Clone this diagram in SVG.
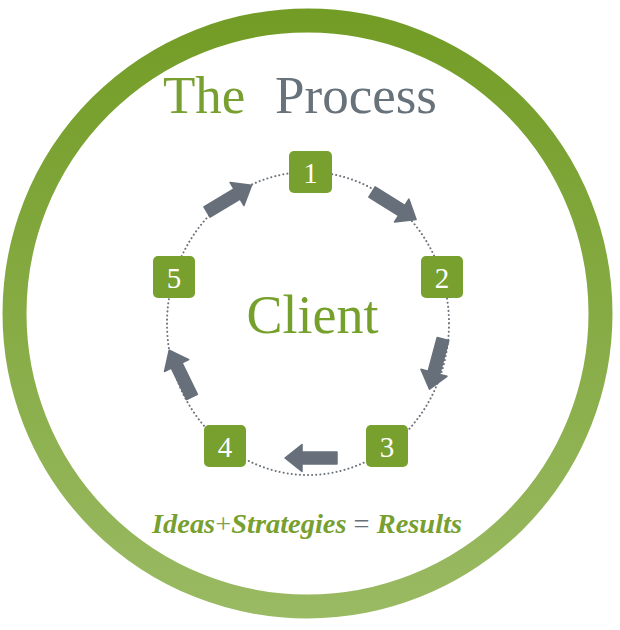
<svg xmlns="http://www.w3.org/2000/svg" width="620" height="630" viewBox="0 0 620 630">
  <defs>
    <linearGradient id="ringGrad" gradientUnits="userSpaceOnUse" x1="0" y1="9" x2="0" y2="618">
      <stop offset="0" stop-color="#729c25"/>
      <stop offset="1" stop-color="#9aba63"/>
    </linearGradient>
    <path id="arrowShape" d="M0,-6 L35,-6 L35,-13.5 L52,0 L35,13.5 L35,6 L0,6 Z"/>
  </defs>
  <style>
    .box { fill: #77a02f; }
    .num { font-family: "Liberation Serif", "Times New Roman", serif; font-size: 29px; fill: #ffffff; text-anchor: middle; }
    .arrow { fill: #67707a; stroke: #67707a; stroke-width: 1.5; stroke-linejoin: round; }
    .dots { fill: none; stroke: #6d747c; stroke-width: 2; stroke-dasharray: 0.1 4; stroke-linecap: round; }
    .serif { font-family: "Liberation Serif", "Times New Roman", serif; }
  </style>
  <rect width="620" height="630" fill="#ffffff"/>

  <g id="ring">
    <circle cx="307.5" cy="313.5" r="293" fill="none" stroke="url(#ringGrad)" stroke-width="24"/>
  </g>

  <g id="title" class="serif" font-size="53">
    <text x="163" y="113" fill="#77a030">The</text>
    <text x="275" y="113" fill="#67727b">Process</text>
  </g>

  <g id="connectors">
    <ellipse class="dots" cx="308" cy="323.5" rx="141" ry="151.5"/>
    <use href="#arrowShape" class="arrow" transform="translate(372,192) rotate(32)"/>
    <use href="#arrowShape" class="arrow" transform="translate(443,339) rotate(105)"/>
    <use href="#arrowShape" class="arrow" transform="translate(337,458) rotate(180)"/>
    <use href="#arrowShape" class="arrow" transform="translate(192,397) rotate(244)"/>
    <use href="#arrowShape" class="arrow" transform="translate(207,212) rotate(-31)"/>
  </g>

  <g id="client">
    <text class="serif" x="312.5" y="333" font-size="54" fill="#76a02c" text-anchor="middle">Client</text>
  </g>

  <g id="node1">
    <rect class="box" x="289" y="151" width="43" height="42" rx="5"/>
    <text class="num" x="310.5" y="183">1</text>
  </g>
  <g id="node2">
    <rect class="box" x="421" y="256" width="42" height="42" rx="5"/>
    <text class="num" x="442" y="288">2</text>
  </g>
  <g id="node3">
    <rect class="box" x="366" y="425" width="42" height="42" rx="5"/>
    <text class="num" x="387" y="457">3</text>
  </g>
  <g id="node4">
    <rect class="box" x="204" y="425" width="42" height="42" rx="5"/>
    <text class="num" x="225" y="457">4</text>
  </g>
  <g id="node5">
    <rect class="box" x="153" y="256" width="42" height="42" rx="5"/>
    <text class="num" x="174" y="288">5</text>
  </g>

  <g id="tagline">
    <text class="serif" x="152" y="533" font-size="28" font-style="italic" font-weight="bold" fill="#77a030" textLength="310" lengthAdjust="spacingAndGlyphs">Ideas<tspan font-weight="normal" font-style="normal" fill="#7f9f55">+</tspan>Strategies <tspan fill="#67707a" font-weight="normal" font-style="normal">=</tspan> Results</text>
  </g>
</svg>
